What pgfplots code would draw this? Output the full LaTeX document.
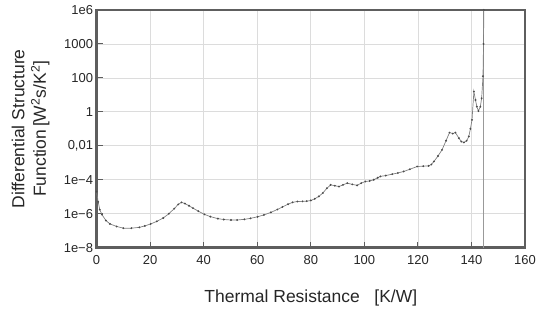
\documentclass[border=0pt]{standalone}
\usepackage{fontspec}
\setmainfont{Liberation Sans}
\usepackage{pgfplots}
\pgfplotsset{compat=1.18}
\definecolor{frame}{HTML}{5E5E5E}
\definecolor{gridc}{HTML}{DCDCDC}
\definecolor{curve}{HTML}{808080}
\begin{document}
\begin{tikzpicture}
\begin{axis}[
  scale only axis, width=429pt, height=238pt,
  xmin=0, xmax=160, ymode=log, ymin=1e-8, ymax=1e6,
  xtick={0,20,...,160},
  ytick={1e-8,1e-6,1e-4,1e-2,1,1e2,1e4,1e6},
  yticklabels={1e−8,1e−6,1e−4,{0,01},1,100,1000,1e6},
  /pgf/number format/assume math mode=true,
  tick label style={font=\fontsize{13}{15}\selectfont, color=black!85},
  xticklabel style={yshift=-4pt},
  tick pos=left, tick align=inside, major tick length=6pt,
  minor tick num=0, yminorticks=false,
  tick style={color=frame, line width=1pt},
  grid=major, major grid style={color=gridc, line width=0.8pt},
  axis line style={color=frame, line width=2.5pt},
  xlabel={Thermal Resistance\ \ \ [K/W]},
  ylabel={Differential Structure\\Function\,[W\textsuperscript{2}s/K\textsuperscript{2}]},
  label style={font=\fontsize{17.5}{21.5}\selectfont, color=black!85},
  xlabel style={at={(axis description cs:0.5,-0.21)}, anchor=center},
  ylabel style={at={(axis description cs:-0.154,0.5)}, anchor=center, align=center},
  clip=true,
]
\addplot[color=black!40, line width=1pt] coordinates {(144.6,1e-8) (144.6,1e6)};
\addplot[color=curve, line width=0.7pt, mark=*, mark size=0.55pt, mark options={fill=black!70, draw=black!70}] coordinates {
(0,2.0e-5) (0.6,5.0e-6) (1.2,1.74e-6) (2,8.9e-7) (3.5,3.98e-7) (5,2.51e-7)
(7.5,1.78e-7) (10,1.41e-7) (13,1.41e-7) (16,1.58e-7) (18,1.91e-7) (20.2,2.51e-7)
(22.5,3.55e-7) (24.9,5.62e-7) (27,1.0e-6) (29,2.0e-6) (30.5,3.55e-6) (31.7,4.68e-6)
(33,3.98e-6) (34.5,2.95e-6) (36,2.14e-6) (38,1.41e-6) (40.3,9.12e-7) (42.5,6.76e-7)
(45.3,5.13e-7) (47.5,4.57e-7) (50.2,4.27e-7) (52.5,4.27e-7) (55.2,4.68e-7) (57.5,5.37e-7)
(60.1,6.61e-7) (62.5,8.51e-7) (65.1,1.20e-6) (67.5,1.78e-6) (69.4,2.51e-6) (71.5,3.63e-6)
(73.2,4.68e-6) (75,5.25e-6) (76.9,5.37e-6) (78.5,5.50e-6) (80,6.03e-6) (81.5,7.59e-6)
(83,1.05e-5) (84.5,1.66e-5) (86,3.16e-5) (87.4,5.01e-5) (89,4.47e-5) (90.5,3.98e-5)
(92,5.01e-5) (93.6,6.31e-5) (95.5,5.37e-5) (97.3,4.68e-5) (98.8,6.31e-5) (100.4,7.94e-5)
(102,8.51e-5) (103.5,1.0e-4) (105,1.32e-4) (106,1.58e-4) (108,1.78e-4) (110.4,2.14e-4)
(112.5,2.51e-4) (114.7,3.09e-4) (117,4.17e-4) (119.7,6.03e-4) (122,6.31e-4) (124,6.61e-4)
(125,7.94e-4) (126,1.20e-3) (127.5,2.51e-3) (129,5.75e-3) (130.5,0.0200) (131.8,0.0603)
(133,0.0525) (134,0.0603) (135.3,0.0282) (136.2,0.0178) (137.2,0.0158) (138.2,0.0200)
(139,0.0355) (139.6,0.1) (140.2,0.339) (140.9,15.8) (141.5,5.01) (142,2.04)
(142.6,1.12) (143.3,2.0) (143.8,6.31) (144.3,126) (144.5,1e4) (144.6,1e6)
};
\end{axis}
\pgfresetboundingbox
\path ([shift={(-96.7pt,-63pt)}]current axis.south west) rectangle ([shift={(23pt,10pt)}]current axis.north east);
\end{tikzpicture}
\end{document}
